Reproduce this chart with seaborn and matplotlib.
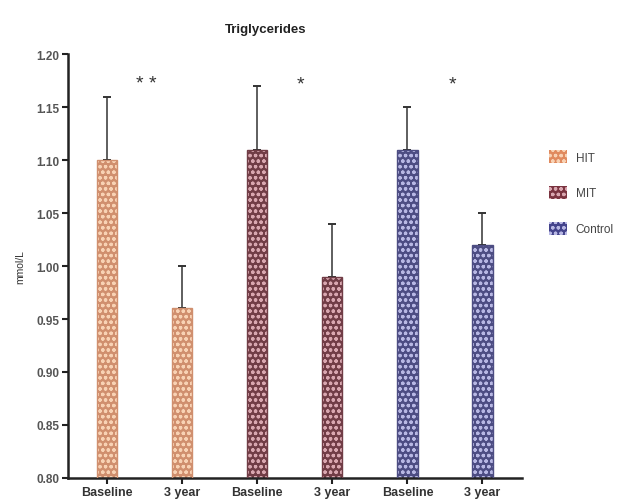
import matplotlib
matplotlib.use("Agg")
import matplotlib.pyplot as plt
import seaborn as sns
import pandas as pd
import numpy as np
from matplotlib.patches import Patch

groups = ["HIT", "HIT", "MIT", "MIT", "Control", "Control"]
times = ["Baseline", "3 year", "Baseline", "3 year", "Baseline", "3 year"]
means = [1.10, 0.96, 1.11, 0.99, 1.11, 1.02]
sds = [0.06, 0.04, 0.06, 0.05, 0.04, 0.03]
legend_labels = ["HIT", "MIT", "Control"]
colors = {"HIT": "#E08A5E", "MIT": "#7A3440", "Control": "#44448C"}
dot_colors = {"HIT": "#F8D2B4", "MIT": "#D9A7B0", "Control": "#B8B8E4"}
star_texts = ["* *", "*", "*"]
star_pos = [0.52, 2.57, 4.6]
star_y = 1.172

sns.set_theme(style="white")
plt.rcParams["font.family"] = ["Liberation Sans", "DejaVu Sans"]
plt.rcParams["hatch.linewidth"] = 0.9

df = pd.DataFrame({"group": groups, "time": times, "value": means,
                   "key": [f"{g} {t}" for g, t in zip(groups, times)]})

fig = plt.figure(figsize=(6.24, 5.02), dpi=100)
ax = fig.add_axes([0.109, 0.046, 0.728, 0.844])

sns.barplot(data=df, x="key", y="value", hue="group", palette=colors,
            dodge=False, width=0.27, ax=ax, legend=False,
            linewidth=0, edgecolor="white")
for p, g in zip(ax.patches, groups):
    fc = p.get_facecolor()
    p.set_hatch("ooo")
    p.set_edgecolor(dot_colors[g])
    ax.add_patch(plt.Rectangle(p.get_xy(), p.get_width(), p.get_height(),
                               fill=False, edgecolor=fc, linewidth=1.0, zorder=3))

xs = np.arange(len(means))
ax.errorbar(xs, means, yerr=[np.zeros(len(sds)), sds], fmt="none",
            ecolor="#333333", elinewidth=1.1, capsize=3, capthick=1.4, zorder=1)

ax.set_ylim(0.80, 1.20)
ax.set_xlim(-0.52, 5.53)
yt = np.arange(0.80, 1.201, 0.05)
ax.set_yticks(yt)
ax.set_yticklabels([f"{v:.2f}" for v in yt],
                   fontsize=8.5, fontweight="bold", color="#555555")
ax.set_xticks(xs)
ax.set_xticklabels(times, fontsize=9, fontweight="bold", color="#333333")
ax.set_xlabel("")
ax.set_ylabel("mmol/L", fontsize=7.5, color="#333333", labelpad=8)
fig.text(0.426, 0.94, "Triglycerides", ha="center", va="center",
         fontsize=9.5, fontweight="bold", color="#222222")

for s in ["top", "right"]:
    ax.spines[s].set_visible(False)
for s in ["left", "bottom"]:
    ax.spines[s].set_linewidth(1.8)
    ax.spines[s].set_color("#222222")
ax.tick_params(axis="both", direction="out", length=4, width=1.5, color="#222222",
               bottom=True, left=True, pad=2)

for t, x in zip(star_texts, star_pos):
    ax.text(x, star_y, t, ha="center", va="center", fontsize=14, color="#333333")

handles = [Patch(facecolor=colors[g], edgecolor=dot_colors[g], hatch="ooo", linewidth=0)
           for g in legend_labels]
leg = fig.legend(handles, legend_labels, loc="upper left", bbox_to_anchor=(0.862, 0.72),
                 frameon=False, fontsize=8.5, labelspacing=1.9, handlelength=1.6,
                 handleheight=1.3, handletextpad=0.7)
for t in leg.get_texts():
    t.set_color("#444444")

fig.savefig("out.png", dpi=100)
